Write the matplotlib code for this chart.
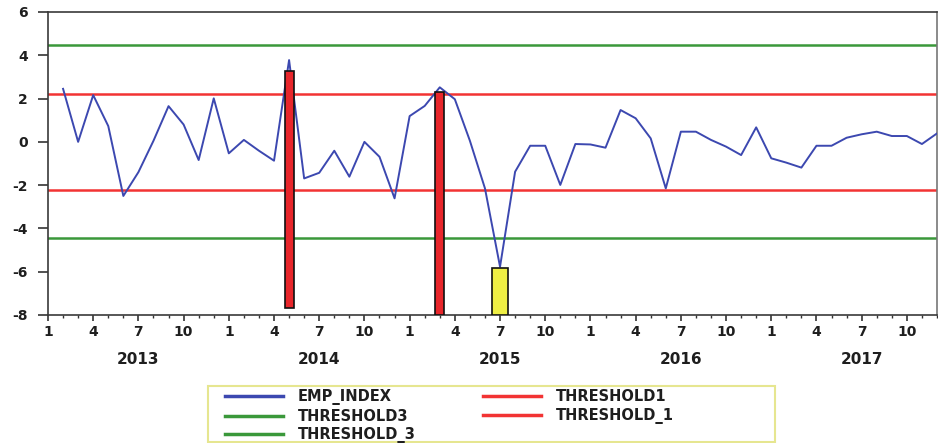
import matplotlib
matplotlib.use("Agg")
import matplotlib.pyplot as plt
import matplotlib.transforms as mtransforms
from matplotlib.patches import Rectangle
import numpy as np

# ---------------- data ----------------
years = ["2013", "2014", "2015", "2016", "2017"]
month_ticks = [1, 4, 7, 10]
# EMP index, monthly Feb 2013 .. Dec 2017
emp_index = [2.45, 0.00, 2.16, 0.73, -2.50, -1.40, 0.05, 1.65, 0.80, -0.84,
             2.01, -0.53, 0.09, -0.41, -0.87, 3.78, -1.69, -1.43, -0.41, -1.61,
             0.00, -0.69, -2.61, 1.19, 1.66, 2.52, 1.97, 0.05, -2.15, -5.77,
             -1.38, -0.18, -0.18, -1.99, -0.10, -0.12, -0.27, 1.47, 1.09, 0.16,
             -2.15, 0.47, 0.47, 0.09, -0.22, -0.61, 0.67, -0.76, -0.96, -1.19,
             -0.18, -0.18, 0.19, 0.35, 0.47, 0.27, 0.27, -0.10, 0.39]
emp_start = 1  # month index of first observation (0 = Jan 2013)
threshold1 = 2.21
threshold3 = 4.46
# crisis markers (month index, bottom, top)
bar_month = [16, 26, 30]
bar_bottom = [-7.69, -8.0, -8.0]
bar_top = [3.27, 2.29, -5.84]
bar_kind = ["red", "red", "yellow"]
bar_width = [0.6, 0.6, 1.06]

n_months = 12 * len(years)

# ---------------- style ----------------
plt.rcParams["font.family"] = ["DejaVu Sans"]
plt.rcParams["axes.unicode_minus"] = False
txt_col = "#1e1e1e"
blue = "#3c48b0"
green = "#3a983a"
red = "#f23333"
bar_colors = {"red": "#e8262b", "yellow": "#eeee44"}

W, H = 938, 443
fig = plt.figure(figsize=(W / 100, H / 100), dpi=100)
ax = fig.add_axes([48 / W, 1 - 315 / H, 889 / W, 303 / H])

x_emp = np.arange(emp_start, emp_start + len(emp_index))
ln_emp, = ax.plot(x_emp, emp_index, color=blue, lw=1.4, zorder=3)
ln_t3 = ax.axhline(threshold3, color=green, lw=1.8, zorder=2)
ln_t1 = ax.axhline(threshold1, color=red, lw=1.8, zorder=2)
ln_t_1 = ax.axhline(-threshold1, color=red, lw=1.8, zorder=2)
ln_t_3 = ax.axhline(-threshold3, color=green, lw=1.8, zorder=2)

heights = [t - b for t, b in zip(bar_top, bar_bottom)]
ax.bar(bar_month, heights, bottom=bar_bottom, width=bar_width,
       color=[bar_colors[k] for k in bar_kind], edgecolor="#111111",
       linewidth=1.2, zorder=4)

ax.set_xlim(0, n_months - 1)
ax.set_ylim(-8, 6)
ax.set_yticks(np.arange(-8, 7, 2))
ax.set_yticklabels([str(v) for v in range(-8, 7, 2)])

major = [12 * y + (m - 1) for y in range(len(years)) for m in month_ticks]
major = [m for m in major if m < n_months]
ax.set_xticks(major)
ax.set_xticklabels([str(month_ticks[i % 4]) for i in range(len(major))])
ax.set_xticks(np.arange(0, n_months), minor=True)

ax.tick_params(axis="y", direction="out", length=7.5, width=1.2, pad=7,
               labelsize=10, colors="#333333", labelcolor=txt_col)
ax.tick_params(axis="x", which="major", direction="out", length=4.5, width=1.2,
               pad=3, labelsize=10, colors="#333333", labelcolor=txt_col)
ax.tick_params(axis="x", which="minor", direction="out", length=2.5, width=1.0,
               colors="#333333")
for lab in ax.get_xticklabels() + ax.get_yticklabels():
    lab.set_fontweight("bold")

for s in ax.spines.values():
    s.set_color("#3a3a3a")
    s.set_linewidth(1.2)
ax.spines["right"].set_color("#777777")

trans = mtransforms.blended_transform_factory(ax.transData, fig.transFigure)
for i, y in enumerate(years):
    ax.text(12 * i + 6, 1 - 360 / H, y, transform=trans, ha="center",
            va="center", fontsize=11, fontweight="bold", color=txt_col)

# legend box
fig.patches.append(Rectangle((208 / W, 1 - 442 / H), 567 / W, 56 / H,
                             transform=fig.transFigure, facecolor="white",
                             edgecolor="#e6e690", linewidth=1.5, zorder=0))
handles = [ln_emp, ln_t3, ln_t_3, ln_t1, ln_t_1]
labels = ["EMP_INDEX", "THRESHOLD3", "THRESHOLD_3", "THRESHOLD1", "THRESHOLD_1"]
leg = fig.legend(handles, labels, ncol=2, loc="upper left",
                 bbox_to_anchor=(225 / W, 1 - 389 / H),
                 frameon=False, prop={"weight": "bold", "size": 10.5},
                 handlelength=4.0, handletextpad=1.0, labelspacing=0.25,
                 borderpad=0.0, borderaxespad=0.0, columnspacing=4.6)
for t in leg.get_texts():
    t.set_color(txt_col)
for h in leg.legend_handles:
    h.set_linewidth(2.5)

fig.savefig("out.png", dpi=100)
